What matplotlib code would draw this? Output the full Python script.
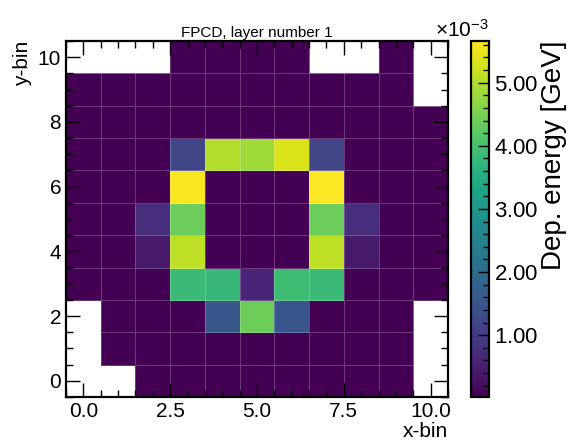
import numpy as np
import matplotlib
matplotlib.use("Agg")
import matplotlib.pyplot as plt
from matplotlib.ticker import ScalarFormatter, AutoMinorLocator, MultipleLocator

plt.rcParams['font.family'] = ['Liberation Sans', 'DejaVu Sans']
plt.rcParams['mathtext.fontset'] = 'custom'
plt.rcParams['mathtext.rm'] = 'Liberation Sans'
plt.rcParams['axes.linewidth'] = 1.6

# bin centres
x_bins = np.arange(11)
y_bins = np.arange(11)

# deposited energy per cell in units of 1e-3 GeV, rows listed from y=10 down to y=0
n = np.nan
d = 0.02
energy_rows = [
    [n, n, n, d, d, d, d, n, n, d, n],
    [d, d, d, d, d, d, d, d, d, d, n],
    [d, d, d, d, d, d, d, d, d, d, d],
    [d, d, d, 1.20, 5.00, 4.85, 5.35, 1.20, d, d, d],
    [d, d, d, 5.60, d, d, d, 5.66, d, d, d],
    [d, d, 0.75, 4.40, d, d, d, 4.40, 0.75, d, d],
    [d, d, 0.40, 5.10, d, d, d, 5.10, 0.40, d, d],
    [d, d, d, 3.85, 3.80, 0.60, 3.90, 3.85, d, d, d],
    [n, d, d, d, 1.55, 4.40, 1.50, d, d, d, n],
    [n, d, d, d, d, d, d, d, d, d, n],
    [n, n, d, d, d, d, d, d, d, d, n],
]
energy = np.array(energy_rows[::-1]) * 1e-3


class CbarFormatter(ScalarFormatter):
    def _set_format(self):
        self.format = r'$\mathdefault{%1.2f}$'


fig = plt.figure(figsize=(5.73, 4.45), dpi=100)
ax = fig.add_axes([0.1152, 0.1079, 0.6666, 0.8])
cax = fig.add_axes([0.822, 0.1079, 0.031, 0.8])

xe = np.append(x_bins - 0.5, x_bins[-1] + 0.5)
ye = np.append(y_bins - 0.5, y_bins[-1] + 0.5)
mesh = ax.pcolormesh(xe, ye, np.ma.masked_invalid(energy), cmap='viridis',
                     edgecolors=(1, 1, 1, 0.22), linewidth=0.6)

ax.set_xlim(-0.5, 10.5)
ax.set_ylim(-0.5, 10.5)
ax.xaxis.set_major_locator(MultipleLocator(2.5))
ax.yaxis.set_major_locator(MultipleLocator(2))
ax.xaxis.set_minor_locator(AutoMinorLocator(5))
ax.yaxis.set_minor_locator(AutoMinorLocator(4))
ax.tick_params(which='both', direction='in', top=True, right=True, labelsize=15)
ax.tick_params(which='major', length=10, width=1.0)
ax.tick_params(which='minor', length=5, width=1.0)

ax.set_xlabel('x-bin', loc='right', fontsize=15, labelpad=1)
ax.set_ylabel('y-bin', loc='top', fontsize=15, labelpad=4)
ax.set_title('FPCD, layer number 1', fontsize=11, pad=3)

cb = fig.colorbar(mesh, cax=cax)
fmt = CbarFormatter(useMathText=True)
fmt.set_powerlimits((0, 0))
cb.formatter = fmt
cb.update_ticks()
cax.yaxis.set_minor_locator(AutoMinorLocator(5))
cax.tick_params(which='both', direction='in', labelsize=16)
cax.tick_params(which='major', length=8, width=1.0)
cax.tick_params(which='minor', length=4, width=1.0)
cax.yaxis.get_offset_text().set_fontsize(15)
cb.outline.set_linewidth(1.6)
cb.set_label('Dep. energy [GeV]', fontsize=20, loc='top', labelpad=2)

fig.savefig('out.png', dpi=100)
